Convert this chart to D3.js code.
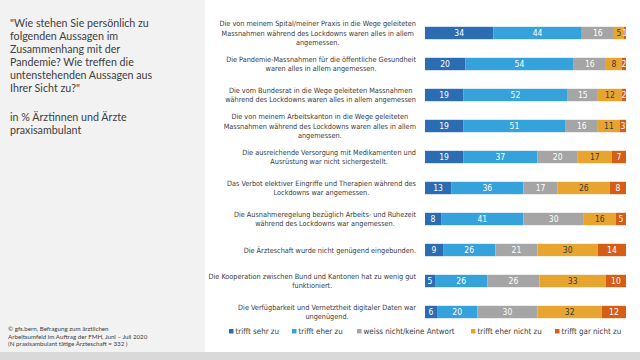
<!DOCTYPE html>
<html><head><meta charset="utf-8">
<script src="https://cdn.jsdelivr.net/npm/d3@7"></script>
<style>
html,body{margin:0;padding:0;background:#fff;}
svg{display:block;}
</style></head>
<body>
<svg id="chart" width="640" height="360"></svg>
<script>
const categories = [
  ["Die von meinem Spital/meiner Praxis in die Wege geleiteten","Massnahmen während des Lockdowns waren alles in allem","angemessen."],
  ["Die Pandemie-Massnahmen für die öffentliche Gesundheit","waren alles in allem angemessen."],
  ["Die vom Bundesrat in die Wege geleiteten Massnahmen","während des Lockdowns waren alles in allem angemessen"],
  ["Die von meinem Arbeitskanton in die Wege geleiteten","Massnahmen während des Lockdowns waren alles in allem","angemessen."],
  ["Die ausreichende Versorgung mit Medikamenten und","Ausrüstung war nicht sichergestellt."],
  ["Das Verbot elektiver Eingriffe und Therapien während des","Lockdowns war angemessen."],
  ["Die Ausnahmeregelung bezüglich Arbeits- und Ruhezeit","während des Lockdowns war angemessen."],
  ["Die Ärzteschaft wurde nicht genügend eingebunden."],
  ["Die Kooperation zwischen Bund und Kantonen hat zu wenig gut","funktioniert."],
  ["Die Verfügbarkeit und Vernetztheit digitaler Daten war","ungenügend."]
];
const seriesNames = ["trifft sehr zu","trifft eher zu","weiss nicht/keine Antwort","trifft eher nicht zu","trifft gar nicht zu"];
const sehrZu     = [34,20,19,19,19,13, 8, 9, 5, 6];
const eherZu     = [44,54,52,51,37,36,41,26,26,20];
const weissNicht = [16,16,15,16,20,17,30,21,26,30];
const eherNicht  = [ 5, 8,12,11,17,26,16,30,33,32];
const garNicht   = [ 1, 2, 2, 3, 7, 8, 5,14,10,12];
const seriesColors = ["#2b6cb3","#35a2dc","#a5a5a5","#e7a52f","#d55e16"];
const valueTextColors = ["#fff","#fff","#fff","#3a3a3a","#fff"];
const titleLines = ["\"Wie stehen Sie persönlich zu","folgenden Aussagen im","Zusammenhang mit der","Pandemie? Wie treffen die","untenstehenden Aussagen aus","Ihrer Sicht zu?\""];
const subtitleLines = ["in % Ärztinnen und Ärzte","praxisambulant"];
const sourceLines = ["© gfs.bern, Befragung zum ärztlichen","Arbeitsumfeld im Auftrag der FMH, Juni – Juli 2020","(N praxisambulant tätige Ärzteschaft = 332 )"];

const svg = d3.select("#chart");
const FONT = "'Liberation Sans Narrow','DejaVu Sans Condensed','Noto Sans',sans-serif";
const FONT2 = "Lato,'Noto Sans',sans-serif";

// backgrounds
svg.append("rect").attr("x",0).attr("y",0).attr("width",205).attr("height",352).attr("fill","#f2f2f2");
svg.append("rect").attr("x",0).attr("y",352).attr("width",640).attr("height",8).attr("fill","#d9d9d9");

// title
const tg = svg.append("g").attr("font-family",FONT2).attr("font-size",10.7).attr("fill","#404040");
titleLines.forEach((t,i)=>tg.append("text").attr("x",10).attr("y",27+i*13).text(t));
subtitleLines.forEach((t,i)=>tg.append("text").attr("x",10).attr("y",121+i*12.5).text(t));
const sg = svg.append("g").attr("font-family",FONT2).attr("font-size",6.2).attr("fill","#404040");
sourceLines.forEach((t,i)=>sg.append("text").attr("x",8).attr("y",331+i*7.5).text(t));

// data
const rows = categories.map((c,i)=>({cat:c, key:"r"+i, vals:[sehrZu[i],eherZu[i],weissNicht[i],eherNicht[i],garNicht[i]]}));
const x = d3.scaleLinear().domain([0,100]).range([425,626]);
const y = d3.scaleBand().domain(rows.map(r=>r.key)).range([17.5,327.5]).paddingInner(0.6).paddingOuter(0.3);

const stackData = rows.map(r=>{const o={key:r.key}; seriesNames.forEach((s,j)=>o[s]=r.vals[j]); return o;});
const stack = d3.stack().keys(seriesNames)(stackData);

const bars = svg.append("g");
stack.forEach((layer,j)=>{
  const g = bars.append("g");
  g.selectAll("rect").data(layer).join("rect")
    .attr("x",d=>x(d[0])).attr("y",d=>y(d.data.key))
    .attr("width",d=>x(d[1])-x(d[0])).attr("height",y.bandwidth())
    .attr("fill",seriesColors[j]);
  g.selectAll("text").data(layer).join("text")
    .attr("x",d=>(x(d[0])+x(d[1]))/2).attr("y",d=>y(d.data.key)+y.bandwidth()/2)
    .attr("dy","0.35em").attr("text-anchor","middle")
    .attr("font-family",FONT).attr("font-size",8.5).attr("fill",valueTextColors[j])
    .text(d=>d[1]-d[0]);
});

// category labels
const lg = svg.append("g").attr("font-family",FONT).attr("font-size",7.25).attr("fill","#3a3a3a");
rows.forEach(r=>{
  const cy = y(r.key)+y.bandwidth()/2;
  const lh = 9.4;
  const n = r.cat.length;
  const texts = r.cat.map((t,k)=>lg.append("text").attr("y",cy+(k-(n-1)/2)*lh).attr("dy","0.35em").attr("text-anchor","middle").text(t));
  const w = d3.max(texts.map(t=>t.node().getComputedTextLength()));
  texts.forEach(t=>t.attr("x",416-w/2));
});

// legend
const legX = [229,292,357,471,555];
const leg = svg.append("g").attr("font-family",FONT).attr("font-size",7.9).attr("fill","#3a3a3a");
seriesNames.forEach((s,j)=>{
  leg.append("rect").attr("x",legX[j]).attr("y",329).attr("width",4.5).attr("height",4.5).attr("fill",seriesColors[j]);
  leg.append("text").attr("x",legX[j]+6.5).attr("y",331.3).attr("dy","0.35em").text(s);
});
</script>
</body></html>
